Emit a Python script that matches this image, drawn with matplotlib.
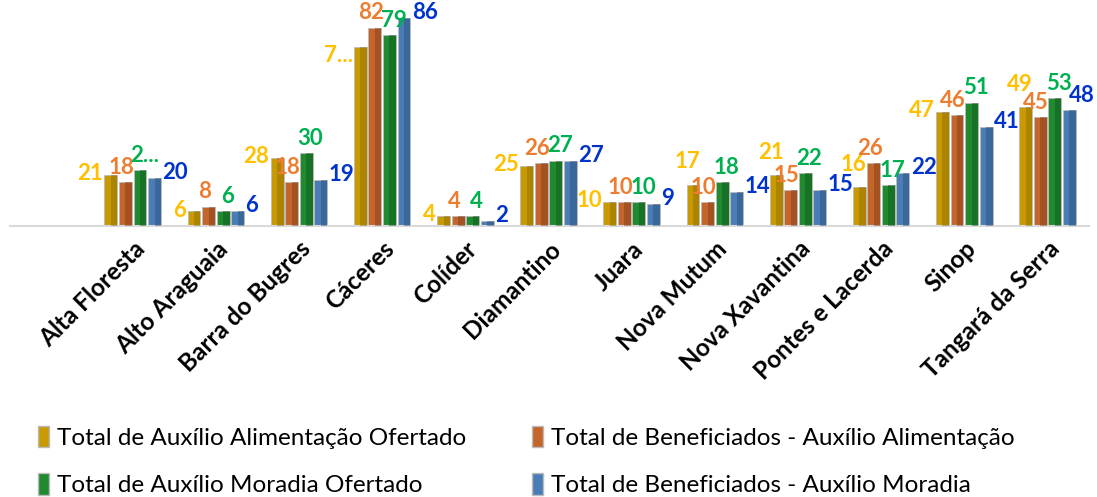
import matplotlib
matplotlib.use("Agg")
import matplotlib.pyplot as plt
import numpy as np
from matplotlib.patches import Patch

categories = ["Alta Floresta", "Alto Araguaia", "Barra do Bugres", "Cáceres", "Colíder",
              "Diamantino", "Juara", "Nova Mutum", "Nova Xavantina", "Pontes e Lacerda",
              "Sinop", "Tangará da Serra"]
alim_ofertado = [21, 6, 28, 74, 4, 25, 10, 17, 21, 16, 47, 49]
alim_benef = [18, 8, 18, 82, 4, 26, 10, 10, 15, 26, 46, 45]
moradia_ofertado = [23, 6, 30, 79, 4, 27, 10, 18, 22, 17, 51, 53]
moradia_benef = [20, 6, 19, 86, 2, 27, 9, 14, 15, 22, 41, 48]
series_names = ["Total de Auxílio Alimentação Ofertado",
                "Total de Beneficiados - Auxílio Alimentação",
                "Total de Auxílio Moradia Ofertado",
                "Total de Beneficiados - Auxílio Moradia"]
# labels that appear truncated in the original chart
truncated = {(0, 3): "7...", (2, 0): "2..."}

bar_colors = ["#C99A00", "#C4652C", "#1F8A30", "#4A7DB5"]
dark_colors = ["#8A6A00", "#7E3D17", "#10561C", "#2A4F7A"]
label_colors = ["#FFC000", "#ED7D31", "#00B050", "#0033CC"]

fig = plt.figure(figsize=(10.97, 4.97), dpi=100)
W, H = 1097, 497
ax = fig.add_axes([10 / W, 1 - 226 / H, (1089 - 10) / W, 226 / H])
ax.set_ylim(0, 226 / 2.42)
ax.set_xlim(-0.5 - 81 / 83, len(categories) - 0.5)

x = np.arange(len(categories))
step = 0.175
bw = 0.155
data = [alim_ofertado, alim_benef, moradia_ofertado, moradia_benef]
font = "Lato"
fs = 16
n = len(categories)
for i, vals in enumerate(data):
    pos = x + (i - 1.5) * step
    ax.bar(pos, vals, width=bw, color=bar_colors[i], edgecolor="#BBBBBB", linewidth=0.6, zorder=2)
    ax.bar(pos + bw * 0.25, vals, width=bw * 0.5, color=dark_colors[i], alpha=0.45, linewidth=0, zorder=3)
    for j, (p, v) in enumerate(zip(pos, vals)):
        txt = truncated.get((i, j), str(v))
        kw = dict(textcoords="offset points", color=label_colors[i], fontsize=fs,
                  fontweight="bold", family=font, annotation_clip=False)
        if i == 0:
            crowded = j > 0 and abs(moradia_benef[j - 1] - v) <= 8
            if crowded:
                ax.annotate(txt, (p, v), xytext=(-4, 9), ha="center", va="bottom", **kw)
            else:
                ax.annotate(txt, (p - bw / 2, v), xytext=(-1, -6 if txt.endswith("...") else 1),
                            ha="right", va="center", **kw)
        elif i == 3:
            if j == n - 1:
                ax.annotate(txt, (p, v), xytext=(9, 3), ha="center", va="bottom", **kw)
            else:
                ax.annotate(txt, (p + bw / 2, v), xytext=(1, 4), ha="left", va="center", **kw)
        else:
            dx = -3 if i == 1 else 3
            ax.annotate(txt, (p, v), xytext=(dx, 3), ha="center", va="bottom", **kw)

for s in ["top", "right", "left"]:
    ax.spines[s].set_visible(False)
ax.spines["bottom"].set_color("#D9D9D9")
ax.spines["bottom"].set_linewidth(1.5)
ax.set_yticks([])
ax.set_xticks(x)
ax.set_xticklabels(categories, rotation=45, ha="right", rotation_mode="anchor",
                   fontsize=17.5, fontweight="bold", family=font)
ax.tick_params(axis="x", length=0, pad=8)

handles = [Patch(facecolor=bar_colors[i], edgecolor="#BBBBBB", label=series_names[i]) for i in range(4)]
order = [0, 2, 1, 3]
fig.legend([handles[k] for k in order], [series_names[k] for k in order], ncol=2,
           loc="upper left", bbox_to_anchor=(28 / W, 1 - 416 / H), frameon=False,
           handlelength=0.45, handleheight=1.0, handletextpad=0.35, columnspacing=2.7,
           labelspacing=1.0, borderaxespad=0, prop={"family": font, "size": 17.5})

fig.savefig("out.png", dpi=100)
